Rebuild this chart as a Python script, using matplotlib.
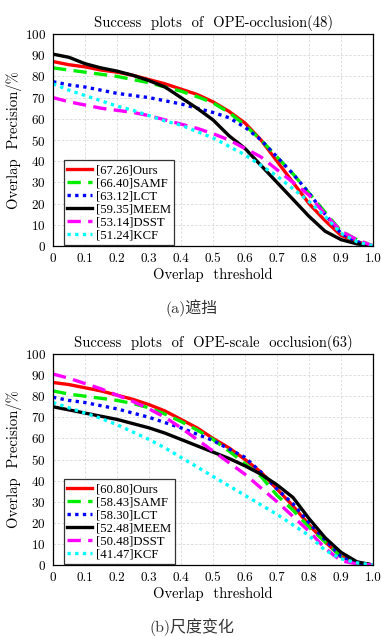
import matplotlib
matplotlib.use("Agg")
import matplotlib.pyplot as plt
import numpy as np

plt.rcParams['font.family'] = ['cmr10', 'DejaVu Serif']
plt.rcParams['mathtext.fontset'] = 'cm'
plt.rcParams['axes.formatter.use_mathtext'] = True

# ---------- data ----------
x_occ = [0, 0.05, 0.1, 0.15, 0.2, 0.25, 0.3, 0.35, 0.4, 0.45, 0.5, 0.55, 0.6, 0.65, 0.7, 0.75, 0.8, 0.85, 0.9, 0.95, 1.0]
occ_ours = [87, 85.5, 84.5, 83, 82, 80.5, 78.5, 76.5, 74, 71.5, 68, 63.5, 58, 50, 40, 30, 20, 12, 5, 2, 0]
occ_samf = [84, 83, 82, 81, 80, 78.5, 77, 75, 73, 70.5, 67.5, 63, 57, 50, 42, 34, 25, 16, 7, 3, 0]
occ_lct = [77.5, 76, 75, 73.5, 72, 71, 70, 68.5, 67, 65, 63, 60.5, 56, 50, 42, 34, 25, 15, 6, 2, 0]
occ_meem = [90.5, 89, 86, 84, 82.5, 80.5, 78, 75, 70, 65, 59.5, 52, 46, 38, 30, 22, 14, 7, 3, 1, 0]
occ_dsst = [70, 68, 66.5, 65, 64, 63, 61.5, 59.5, 57.5, 55.5, 53, 50, 46, 42, 36, 30, 24, 15, 7, 3, 0]
occ_kcf = [76.5, 73.5, 71, 68.5, 66, 64, 61.5, 59, 57, 54, 51, 47, 43, 38, 33, 27, 21, 14, 6, 2, 0]

x_sc = [0, 0.05, 0.1, 0.15, 0.2, 0.25, 0.3, 0.35, 0.4, 0.45, 0.5, 0.55, 0.6, 0.65, 0.7, 0.75, 0.8, 0.85, 0.9, 0.95, 1.0]
sc_ours = [86.5, 85.5, 84, 82.5, 80.5, 78.5, 76, 73, 69, 65, 60, 55.5, 50, 44, 36, 28, 19, 11, 4, 1, 0]
sc_samf = [82.5, 81, 80, 79, 78, 76.5, 74.5, 71.5, 68, 64, 59.5, 54, 48, 42, 33, 26, 18, 11, 4, 1, 0]
sc_lct = [79.5, 78, 77, 75.5, 74, 72, 70, 67.5, 65, 62, 59, 55, 51, 44, 36, 29, 20, 12, 4, 1, 0]
sc_meem = [75, 73.5, 72, 70.5, 69, 67, 65, 62.5, 59.5, 56.5, 53.5, 50.5, 47, 43, 38, 32, 22, 13, 6, 1.5, 0]
sc_dsst = [90.5, 88.5, 86, 83.5, 80.5, 77.5, 74, 70, 65, 59.5, 54, 48.5, 43, 36.5, 30, 23, 16, 8, 2, 0.5, 0]
sc_kcf = [77, 74.5, 72, 69.5, 66.5, 63, 59.5, 55.5, 51, 46.5, 42, 37.5, 33, 28.5, 24, 19, 14, 7, 3, 1, 0]

labels_occ = ['[67.26]Ours', '[66.40]SAMF', '[63.12]LCT', '[59.35]MEEM', '[53.14]DSST', '[51.24]KCF']
labels_sc = ['[60.80]Ours', '[58.43]SAMF', '[58.30]LCT', '[52.48]MEEM', '[50.48]DSST', '[41.47]KCF']
titles = ['Success  plots  of  OPE-occlusion(48)', 'Success  plots  of  OPE-scale  occlusion(63)']
captions = ['(a)遮挡', '(b)尺度变化']
xticks = [0, 0.1, 0.2, 0.3, 0.4, 0.5, 0.6, 0.7, 0.8, 0.9, 1.0]
xticklabels = ['0', '0.1', '0.2', '0.3', '0.4', '0.5', '0.6', '0.7', '0.8', '0.9', '1.0']
yticks = list(range(0, 101, 10))

colors = ['#ff0000', '#00ee00', '#0000ff', '#000000', '#ff00ff', '#00ffff']
styles = [
    dict(linestyle='-'),
    dict(linestyle=(0, (4, 2.2))),
    dict(linestyle=(0, (1, 1.3))),
    dict(linestyle='-'),
    dict(linestyle=(0, (4, 2.2))),
    dict(linestyle=(0, (1, 1.3))),
]

W, H = 381, 636
fig = plt.figure(figsize=(W / 100, H / 100), dpi=100)

def ax_rect(l, r, t, b):
    return [l / W, 1 - b / H, (r - l) / W, (b - t) / H]

axes_px = [(53, 373, 34, 246), (53, 373, 354, 565)]
datasets = [
    (x_occ, [occ_ours, occ_samf, occ_lct, occ_meem, occ_dsst, occ_kcf], labels_occ),
    (x_sc, [sc_ours, sc_samf, sc_lct, sc_meem, sc_dsst, sc_kcf], labels_sc),
]

for i, ((l, r, t, b), (xs, series, labels)) in enumerate(zip(axes_px, datasets)):
    ax = fig.add_axes(ax_rect(l, r, t, b))
    for ys, c, st, lab in zip(series, colors, styles, labels):
        ax.plot(xs, ys, color=c, lw=2.4, label=lab, **st)
    ax.set_xlim(0, 1)
    ax.set_ylim(0, 100)
    ax.set_xticks(xticks)
    ax.set_xticklabels(xticklabels)
    ax.set_yticks(yticks)
    ax.tick_params(labelsize=9.5, length=0, pad=5)
    ax.grid(True, color='#d8d8d8', linestyle=(0, (3, 2)), lw=0.6)
    for s in ax.spines.values():
        s.set_linewidth(0.9)
    ax.set_title(titles[i], fontsize=10.5, pad=5)
    ax.set_xlabel('Overlap  threshold', fontsize=10.5, labelpad=2)
    ax.set_ylabel('Overlap  Precision/%', fontsize=10.5)
    ax.yaxis.set_label_coords(-0.097, 0.5)
    leg = ax.legend(loc='lower left', handlelength=1.9, handletextpad=0.3,
                    labelspacing=0.08, borderpad=0.3, borderaxespad=0.0, frameon=True,
                    fancybox=False, bbox_to_anchor=(0.033, 0.004),
                    prop={'family': ['Liberation Serif', 'DejaVu Serif'], 'size': 9.2})
    leg.get_frame().set_edgecolor('black')
    leg.get_frame().set_linewidth(0.9)

cap_family = ['cmr10', 'Noto Sans CJK SC']
fig.text(192 / W, 1 - 308 / H, captions[0], ha='center', va='center', fontsize=11.5,
         family=cap_family, color='#333333')
fig.text(192 / W, 1 - 627 / H, captions[1], ha='center', va='center', fontsize=11.5,
         family=cap_family, color='#333333')

fig.savefig('out.png', dpi=100)
